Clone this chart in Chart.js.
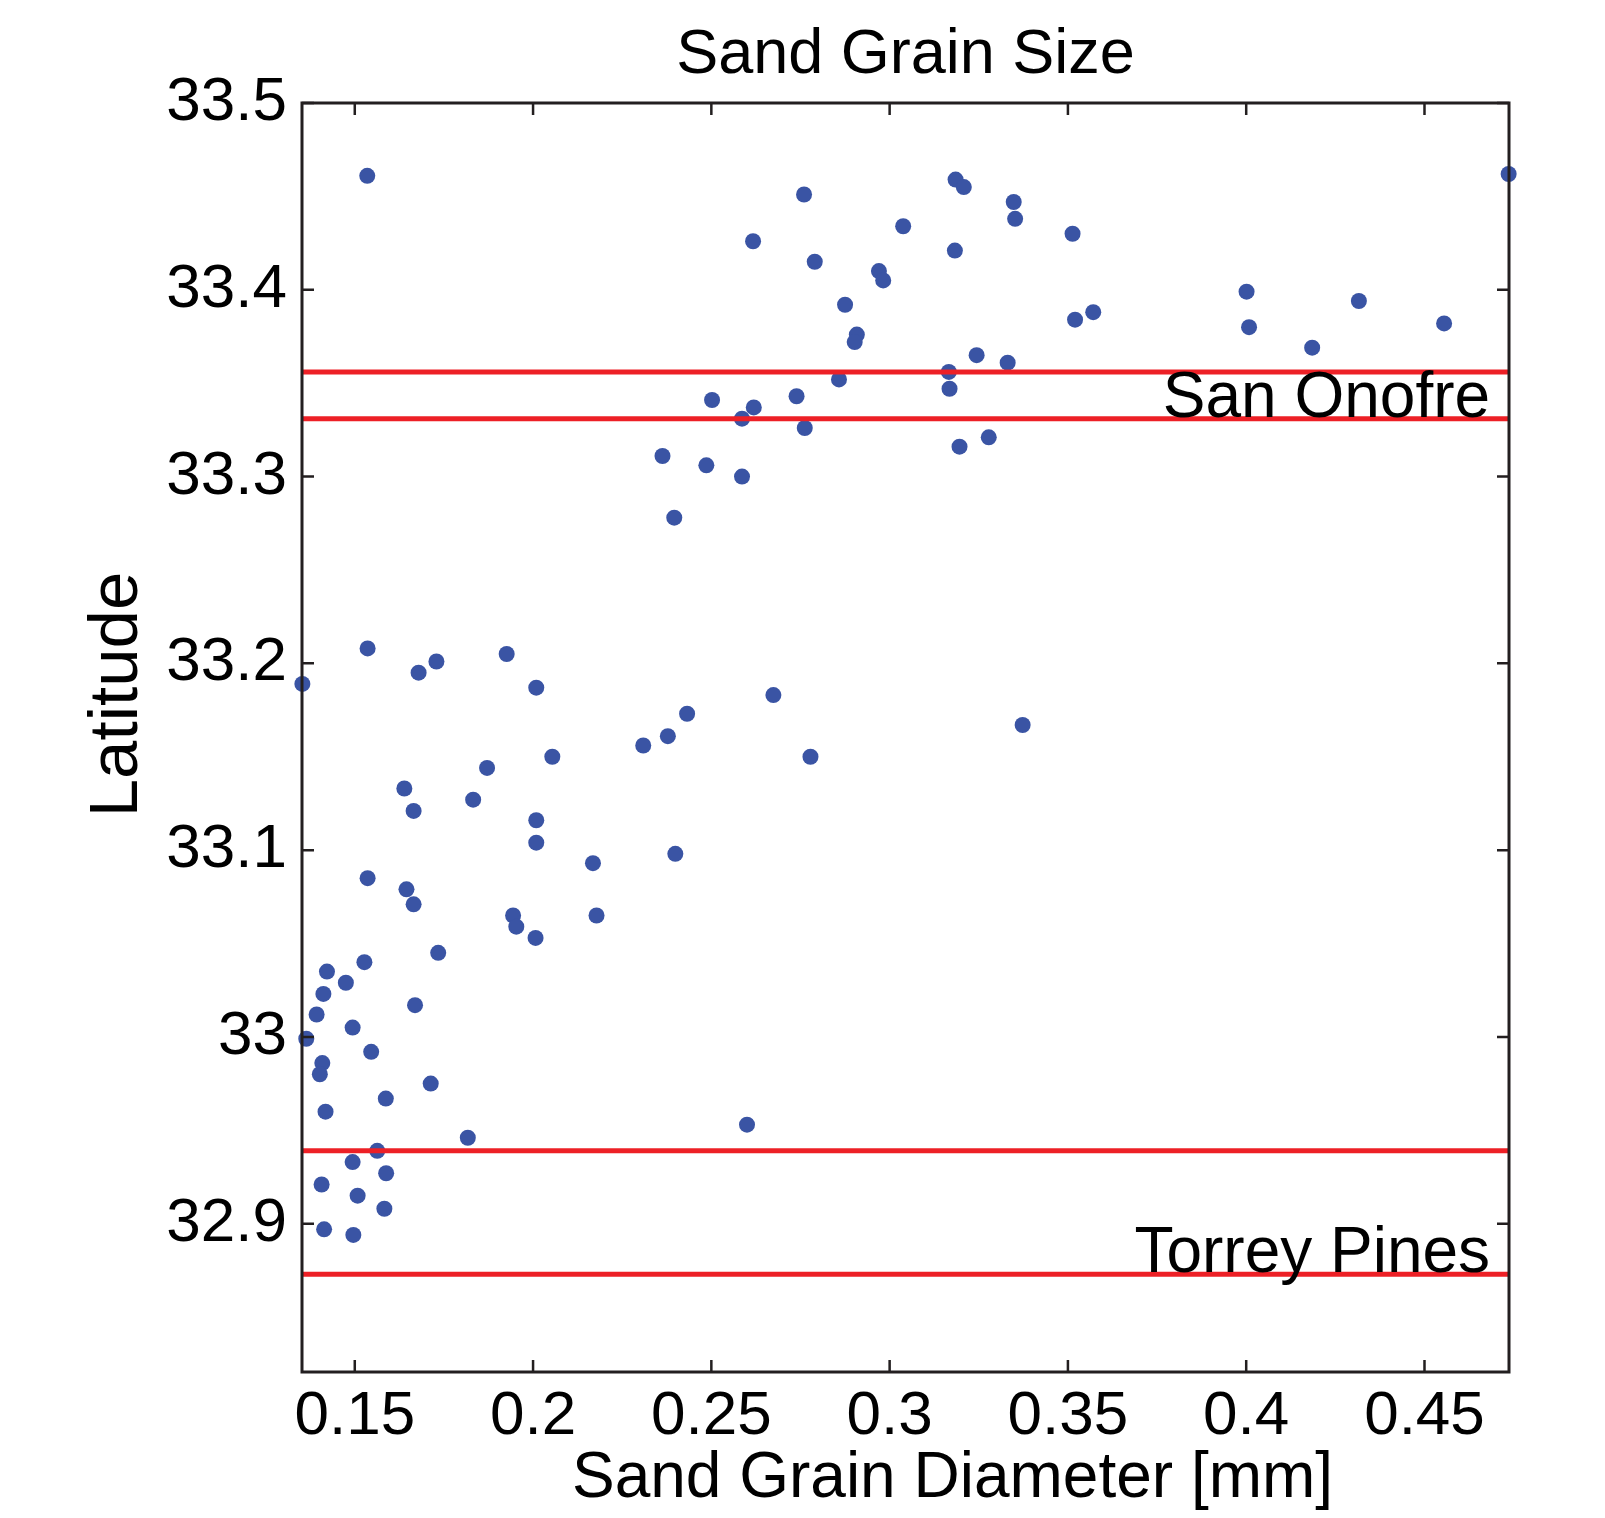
<!DOCTYPE html>
<html>
<head>
<meta charset="utf-8">
<script src="https://cdn.jsdelivr.net/npm/chart.js@4.4.1/dist/chart.umd.min.js"></script>
<style>
    body {
        margin: 0;
        background: #ffffff;
    }

    #chart {
        display: block;
    }
</style>
</head>
<body>
<canvas id="chart" width="1605" height="1518"></canvas>
<script>
// Sand samples: diameter [mm] and latitude
const grainDiameter = [
    0.1535, 0.2760, 0.3185, 0.3208, 0.3348, 0.3352, 0.3038, 0.2617, 0.3513, 0.3183,
    0.2790, 0.2970, 0.2982, 0.2875, 0.2908, 0.2902, 0.4001, 0.4008, 0.3520, 0.3571,
    0.4316, 0.4555, 0.4185, 0.4736, 0.3244, 0.3331, 0.3166, 0.3168, 0.2858, 0.2739,
    0.2502, 0.2586, 0.2619, 0.2762, 0.3196, 0.3278, 0.2363, 0.2486, 0.2586, 0.2396,
    0.1536, 0.1353, 0.1679, 0.1729, 0.1926, 0.2009, 0.2674, 0.2432, 0.2378, 0.2309,
    0.2054, 0.2778, 0.3373, 0.1871, 0.1639, 0.1832, 0.1665, 0.2009, 0.2009, 0.2399,
    0.2168, 0.1536, 0.1645, 0.1665, 0.1944, 0.1953, 0.2007, 0.2178,
    0.1734, 0.1527, 0.1422, 0.1475, 0.1412, 0.1393, 0.1669, 0.1494, 0.1364, 0.1546,
    0.1409, 0.1402, 0.1713, 0.1587, 0.1418, 0.1817, 0.2600, 0.1563, 0.1494, 0.1588,
    0.1407, 0.1508, 0.1583, 0.1414, 0.1496
]
const latitude = [
    33.461, 33.451, 33.459, 33.455, 33.447, 33.438, 33.434, 33.426, 33.430, 33.421,
    33.415, 33.410, 33.405, 33.392, 33.376, 33.372, 33.399, 33.380, 33.384, 33.388,
    33.394, 33.382, 33.369, 33.462, 33.365, 33.361, 33.356, 33.347, 33.352, 33.343,
    33.341, 33.331, 33.337, 33.326, 33.316, 33.321, 33.311, 33.306, 33.300, 33.278,
    33.208, 33.189, 33.195, 33.201, 33.205, 33.187, 33.183, 33.173, 33.161, 33.156,
    33.150, 33.150, 33.167, 33.144, 33.133, 33.127, 33.121, 33.116, 33.104, 33.098,
    33.093, 33.085, 33.079, 33.071, 33.065, 33.059, 33.053, 33.065,
    33.045, 33.040, 33.035, 33.029, 33.023, 33.012, 33.017, 33.005, 32.999, 32.992,
    32.986, 32.980, 32.975, 32.967, 32.960, 32.946, 32.953, 32.939, 32.933, 32.927,
    32.921, 32.915, 32.908, 32.897, 32.894
]

// Beach zones marked by red lines
const zoneNames = ['San Onofre', 'Torrey Pines']
const zoneNorth = [33.356, 32.939]
const zoneSouth = [33.331, 32.873]
const zoneLabelDiameter = 0.4684

// Axes
const xLimits = [0.1352, 0.4737]
const yLimits = [32.8206, 33.5]
const xTickValues = [0.15, 0.2, 0.25, 0.3, 0.35, 0.4, 0.45]
const xTickLabels = ['0.15', '0.2', '0.25', '0.3', '0.35', '0.4', '0.45']
const yTickValues = [32.9, 33, 33.1, 33.2, 33.3, 33.4, 33.5]
const yTickLabels = ['32.9', '33', '33.1', '33.2', '33.3', '33.4', '33.5']

const chartTitle = 'Sand Grain Size'
const xTitle = 'Sand Grain Diameter [mm]'
const yTitle = 'Latitude'

const FONT = '"Liberation Sans", Arial, Helvetica, sans-serif'
const BLUE = 'rgb(58, 84, 164)'
const RED = 'rgb(237, 32, 38)'
const INK = '#231f20'

const points = grainDiameter.map((d, i) => ({ x: d, y: latitude[i] }))

// red lines sit on top of the dots, as in the original
const zoneLines = []
zoneNorth.concat(zoneSouth).forEach((lat) => {
    zoneLines.push({
        type: 'line',
        data: [{ x: xLimits[0], y: lat }, { x: xLimits[1], y: lat }],
        borderColor: RED,
        borderWidth: 5,
        pointRadius: 0,
        order: 1
    })
})

// Box, inward ticks on all sides, titles and zone names
const framePlugin = {
    id: 'frame',
    afterDraw(chart) {
        const { ctx, chartArea: area, scales: { x, y } } = chart
        const tick = 12

        ctx.save()
        ctx.strokeStyle = INK
        ctx.lineWidth = 2.5
        ctx.beginPath()
        xTickValues.forEach((v) => {
            const px = x.getPixelForValue(v)
            ctx.moveTo(px, area.bottom)
            ctx.lineTo(px, area.bottom - tick)
            ctx.moveTo(px, area.top)
            ctx.lineTo(px, area.top + tick)
        })
        yTickValues.forEach((v) => {
            const py = y.getPixelForValue(v)
            ctx.moveTo(area.left, py)
            ctx.lineTo(area.left + tick, py)
            ctx.moveTo(area.right, py)
            ctx.lineTo(area.right - tick, py)
        })
        ctx.stroke()

        ctx.lineWidth = 3
        ctx.strokeRect(area.left, area.top, area.right - area.left, area.bottom - area.top)

        ctx.fillStyle = '#000000'
        ctx.textBaseline = 'alphabetic'

        ctx.font = '63px ' + FONT
        ctx.textAlign = 'center'
        ctx.fillText(chartTitle, (area.left + area.right) / 2, 73)

        ctx.font = '64px ' + FONT
        ctx.fillText(xTitle, (area.left + area.right) / 2 + 47, 1497)

        ctx.save()
        ctx.font = '69px ' + FONT
        ctx.translate(137, (area.top + area.bottom) / 2 - 43)
        ctx.rotate(-Math.PI / 2)
        ctx.fillText(yTitle, 0, 0)
        ctx.restore()

        ctx.font = '64px ' + FONT
        ctx.textAlign = 'right'
        zoneNames.forEach((name, i) => {
            ctx.fillText(name, x.getPixelForValue(zoneLabelDiameter), y.getPixelForValue(zoneSouth[i]) - 2)
        })
        ctx.restore()
    }
}

new Chart(document.getElementById('chart'), {
    type: 'scatter',
    data: {
        datasets: [
            {
                data: points,
                backgroundColor: BLUE,
                borderWidth: 0,
                pointRadius: 8,
                pointHoverRadius: 8,
                clip: false,
                order: 2
            },
            ...zoneLines
        ]
    },
    plugins: [framePlugin],
    options: {
        responsive: false,
        animation: false,
        devicePixelRatio: 1,
        layout: {
            padding: { top: 103, right: 96, left: 0, bottom: 0 }
        },
        plugins: {
            legend: { display: false },
            title: { display: false },
            tooltip: { enabled: false }
        },
        scales: {
            x: {
                type: 'linear',
                position: 'bottom',
                min: xLimits[0],
                max: xLimits[1],
                grid: { display: false, drawTicks: false },
                border: { display: false },
                afterBuildTicks: (scale) => {
                    scale.ticks = xTickValues.map((v) => ({ value: v }))
                },
                afterFit: (scale) => {
                    scale.height = 146
                },
                ticks: {
                    autoSkip: false,
                    maxRotation: 0,
                    padding: 8,
                    color: '#000000',
                    font: { family: FONT, size: 62 },
                    callback: (value) => xTickLabels[xTickValues.indexOf(value)]
                }
            },
            y: {
                type: 'linear',
                position: 'left',
                min: yLimits[0],
                max: yLimits[1],
                grid: { display: false, drawTicks: false },
                border: { display: false },
                afterBuildTicks: (scale) => {
                    scale.ticks = yTickValues.map((v) => ({ value: v }))
                },
                afterFit: (scale) => {
                    scale.width = 302
                },
                ticks: {
                    autoSkip: false,
                    padding: 15,
                    color: '#000000',
                    font: { family: FONT, size: 62 },
                    callback: (value) => yTickLabels[yTickValues.indexOf(value)]
                }
            }
        }
    }
})
</script>
</body>
</html>
